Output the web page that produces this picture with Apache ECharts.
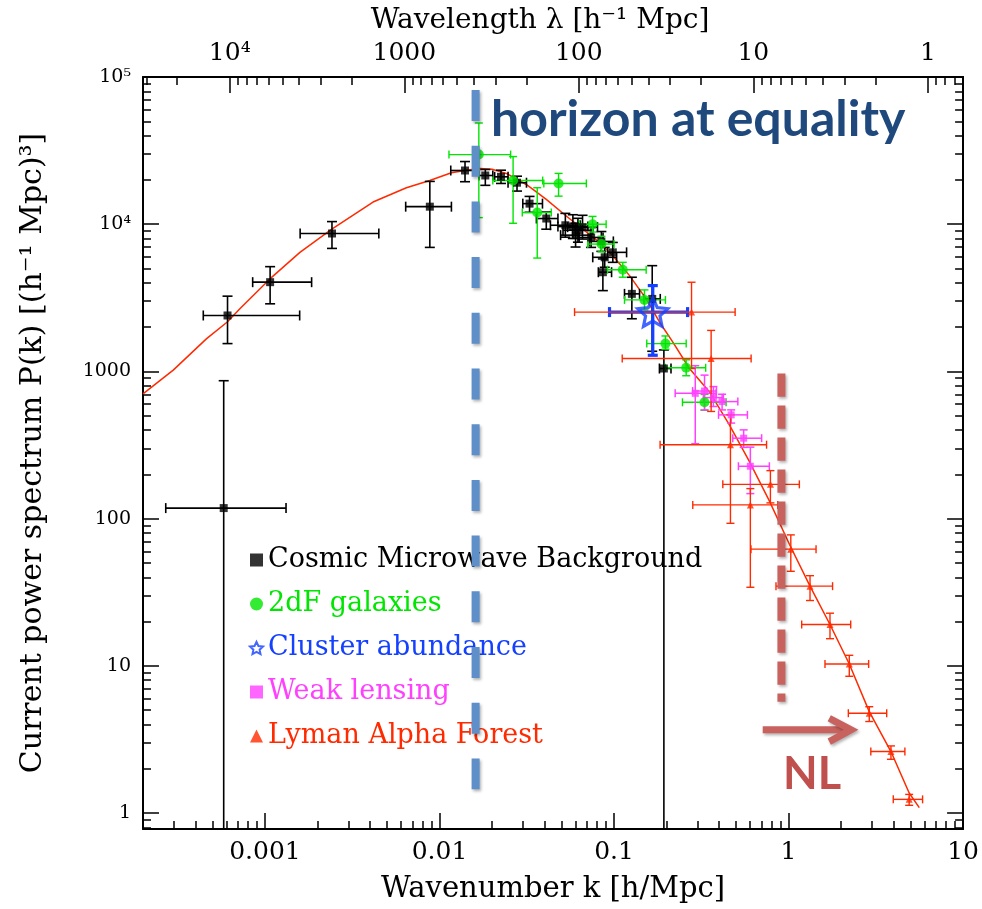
<!DOCTYPE html>
<html>
<head>
<meta charset="utf-8">
<script src="https://cdn.jsdelivr.net/npm/echarts@6/dist/echarts.min.js"></script>
<style>
  html, body { margin: 0; padding: 0; background: #ffffff; }
  #chart { width: 982px; height: 909px; }
</style>
</head>
<body>
<div id="chart"></div>
<script>
// ---- Measurements: each row is [k, P, kLow, kHigh, PLow, PHigh] ----
const cmb = [
  [5.8e-4, 118, 2.7e-4, 1.32e-3, 0.3, 865],
  [6.1e-4, 2400, 4.43e-4, 1.58e-3, 1546, 3246],
  [1.07e-3, 4040, 8.5e-4, 1.85e-3, 2880, 5150],
  [2.42e-3, 8650, 1.59e-3, 4.49e-3, 6850, 10420],
  [8.8e-3, 13160, 6.4e-3, 0.0117, 6960, 19540],
  [0.0140, 23170, 0.0116, 0.0163, 19440, 26650],
  [0.0183, 21430, 0.0168, 0.0202, 18370, 23550],
  [0.0225, 20990, 0.0207, 0.0247, 18920, 23270],
  [0.0278, 19140, 0.0247, 0.0315, 16790, 21190],
  [0.0328, 13800, 0.0300, 0.0389, 12050, 15450],
  [0.0409, 10930, 0.0359, 0.0477, 9250, 12100],
  [0.0526, 9840, 0.0432, 0.0641, 8170, 11850],
  [0.0581, 9640, 0.0477, 0.0708, 8000, 11600],
  [0.0621, 9100, 0.0510, 0.0756, 7550, 10970],
  [0.0660, 9550, 0.0542, 0.0804, 7930, 11500],
  [0.0602, 8430, 0.0494, 0.0733, 7000, 10160],
  [0.0739, 8130, 0.0631, 0.0865, 6960, 9500],
  [0.0846, 7640, 0.0722, 0.0991, 6540, 8920],
  [0.0984, 6440, 0.0920, 0.118, 5510, 7520],
  [0.0884, 5960, 0.0755, 0.1035, 5100, 6960],
  [0.0863, 4720, 0.0813, 0.0968, 3540, 5810],
  [0.1265, 3365, 0.1148, 0.140, 2280, 4363],
  [0.1655, 3110, 0.1490, 0.1840, 1371, 5230],
  [0.193, 1047, 0.182, 0.212, 0.3, 1400]
];
const twoDF = [
  [0.0168, 29720, 0.01133, 0.02555, 11090, 48700],
  [0.0264, 19800, 0.0202, 0.039, 10150, 28800],
  [0.0481, 18920, 0.0396, 0.0694, 15510, 22140],
  [0.0363, 12000, 0.0298, 0.0437, 5890, 17700],
  [0.0753, 10000, 0.0634, 0.0901, 8850, 11300],
  [0.0847, 7330, 0.0707, 0.100, 6490, 8280],
  [0.1122, 4910, 0.0918, 0.1528, 4365, 5510],
  [0.1494, 3062, 0.1148, 0.197, 2620, 3580],
  [0.197, 1546, 0.154, 0.259, 1416, 1742],
  [0.259, 1059, 0.197, 0.335, 935, 1200],
  [0.33, 617, 0.2466, 0.4385, 545, 698]
];
const clusters = [
  [0.1667, 2530, 0.0942, 0.264, 1288, 3830]
];
const weakLensing = [
  [0.292, 710, 0.224, 0.385, 323, 1094],
  [0.330, 736, 0.282, 0.386, 548, 944],
  [0.371, 664, 0.325, 0.423, 578, 789],
  [0.416, 624, 0.36, 0.512, 548, 700],
  [0.469, 507, 0.397, 0.581, 446, 548],
  [0.553, 352, 0.479, 0.701, 305, 401],
  [0.604, 227, 0.516, 0.776, 148, 306]
];
const lymanAlpha = [
  [0.278, 2530, 0.0594, 0.494, 1047, 4036],
  [0.36, 1224, 0.1114, 0.610, 535, 1900],
  [0.4645, 318, 0.1836, 0.748, 93, 507],
  [0.787, 171, 0.420, 1.153, 128, 212],
  [0.604, 124, 0.2826, 0.867, 34.2, 160],
  [1.03, 62.1, 0.609, 1.437, 43.9, 77.6],
  [1.327, 34.8, 0.847, 1.787, 27.8, 41],
  [1.727, 19.1, 1.189, 2.27, 15.3, 22.8],
  [2.228, 10.3, 1.617, 2.876, 8.5, 11.8],
  [2.90, 4.77, 2.20, 3.65, 4.19, 5.28],
  [3.86, 2.62, 2.96, 4.64, 2.32, 2.86],
  [4.91, 1.24, 3.98, 5.86, 1.13, 1.34]
];
// Model power spectrum, [k, P]
const modelCurve = [
  [2.0e-4, 705], [2.98e-4, 1021], [4.63e-4, 1671], [6.08e-4, 2168], [7.18e-4, 2665],
  [1.067e-3, 4250], [1.585e-3, 6440], [2.415e-3, 9250], [4.16e-3, 14150], [6.46e-3, 17700],
  [8.79e-3, 19840], [0.0117, 22350], [0.01426, 23270], [0.0170, 23900], [0.0200, 23600],
  [0.02415, 22120], [0.0314, 18620], [0.0409, 14750], [0.0532, 11380], [0.0662, 9250],
  [0.0826, 7520], [0.0984, 6110], [0.1227, 4475], [0.1528, 3113], [0.182, 2168],
  [0.2168, 1588], [0.2704, 1047], [0.3514, 729], [0.458, 434], [0.596, 245],
  [0.776, 132], [1.011, 67], [1.327, 34.8], [1.727, 19.1], [2.228, 10.3],
  [2.90, 4.89], [3.86, 2.62], [4.91, 1.37], [5.61, 1.09]
];

// ---- Axis ranges and tick labels ----
const kRange = [2e-4, 10];
const pRange = [0.78, 1e5];
const kTicks = [0.001, 0.01, 0.1, 1, 10];
const lambdaTicks = [1, 10, 100, 1000, 10000];
const pTicks = [1, 10, 100, 1000, 10000, 100000];

// ---- Annotations (data coordinates) ----
const kEquality = 0.0161;          // horizon at equality
const kNonlinear = 0.91;           // onset of non-linear scales
const eqLineSpan = [81600, 1.45];
const nlLineSpan = [969, 5.71];
const nlArrowShaft = [[0.711, 3.68], [2.13, 3.68]];
const nlArrowHead = [[1.71, 4.41], [2.28, 3.68], [1.71, 3.06]];

const FONT = 'DejaVu Serif';
const SUP = { '0': '⁰', '1': '¹', '2': '²', '3': '³', '4': '⁴', '5': '⁵', '6': '⁶', '7': '⁷', '8': '⁸', '9': '⁹', '-': '⁻' };
function powLabel(v) {
  const e = Math.round(Math.log10(v));
  return '10' + String(e).split('').map(c => SUP[c]).join('');
}
function minorTicks(lo, hi) {
  const out = [];
  for (let e = Math.floor(Math.log10(lo)) - 1; e <= Math.ceil(Math.log10(hi)); e++) {
    for (let m = 2; m <= 9; m++) {
      const v = m * Math.pow(10, e);
      if (v >= lo * 0.999 && v <= hi * 1.001) out.push(v);
    }
  }
  return out;
}
const lambdaRange = [2 * Math.PI / kRange[1], 2 * Math.PI / kRange[0]];

const frameLine = { show: true, onZero: false, lineStyle: { color: '#000', width: 2 } };
const majorTick = (vals) => ({ show: true, inside: true, length: 16, customValues: vals, lineStyle: { color: '#000', width: 1.5 } });
const minorTickStyle = (vals) => ({ show: true, inside: true, length: 8, customValues: vals, lineStyle: { color: '#000', width: 1.5 } });

function logAxis(base) {
  return Object.assign({
    type: 'log', logBase: 10,
    splitLine: { show: false },
    minorTick: { show: false },
    minorSplitLine: { show: false }
  }, base);
}

// Error bars with end caps, placed through the axes' own scales
function errorBars(color, width, cap) {
  return function (params, api) {
    const k = api.value(0), p = api.value(1);
    const c = api.coord([k, p]);
    const xl = api.coord([api.value(2), p])[0];
    const xr = api.coord([api.value(3), p])[0];
    const yb = api.coord([k, api.value(4)])[1];
    const yt = api.coord([k, api.value(5)])[1];
    const h = cap / 2;
    const style = { stroke: color, lineWidth: width, fill: null };
    const seg = (x1, y1, x2, y2) => ({ type: 'line', shape: { x1, y1, x2, y2 }, style });
    return {
      type: 'group',
      children: [
        seg(xl, c[1], xr, c[1]),
        seg(xl, c[1] - h, xl, c[1] + h),
        seg(xr, c[1] - h, xr, c[1] + h),
        seg(c[0], yb, c[0], yt),
        seg(c[0] - h, yb, c[0] + h, yb),
        seg(c[0] - h, yt, c[0] + h, yt)
      ]
    };
  };
}

const STAR = 'path://M50 0 L64.11 30.58 L97.55 34.55 L72.83 57.42 L79.39 90.45 L50 74 L20.61 90.45 L27.17 57.42 L2.45 34.55 L35.89 30.58 Z';

const datasets = [
  { name: 'Cosmic Microwave Background', data: cmb, color: '#000000', symbol: 'rect', size: 8, bar: 1.6, cap: 10 },
  { name: '2dF galaxies', data: twoDF, color: '#00E600', symbol: 'circle', size: 10, bar: 1.4, cap: 8 },
  { name: 'Cluster abundance', data: clusters, color: '#1440FF', symbol: STAR, size: 30, bar: 3.2, cap: 10, hollow: true },
  { name: 'Weak lensing', data: weakLensing, color: '#FF40FF', symbol: 'rect', size: 7, bar: 1.5, cap: 8 },
  { name: 'Lyman Alpha Forest', data: lymanAlpha, color: '#FF2A00', symbol: 'triangle', size: 7, bar: 1.4, cap: 8 }
];

const series = [];
series.push({
  name: 'model', type: 'line', data: modelCurve, symbol: 'none', smooth: false,
  lineStyle: { color: '#FF2A00', width: 1.5, join: 'round' }, z: 2, silent: true
});
datasets.forEach(d => {
  series.push({
    name: d.name + ' errors', type: 'custom', data: d.data, clip: true,
    encode: { x: 0, y: 1 }, renderItem: errorBars(d.color, d.bar, d.cap), z: 3, silent: true
  });
});
datasets.forEach(d => {
  series.push({
    name: d.name, type: 'scatter', data: d.data.map(r => [r[0], r[1]]),
    symbol: d.symbol, symbolSize: d.size, symbolKeepAspect: true,
    itemStyle: d.hollow
      ? { color: 'rgba(0,0,0,0)', borderColor: d.color, borderWidth: 3.2 }
      : { color: d.color },
    z: 4, silent: true
  });
});
// Dashed markers and arrow
const dashShadow = { shadowColor: 'rgba(0,0,0,0.3)', shadowBlur: 3, shadowOffsetX: 1.5, shadowOffsetY: 2 };
series.push({
  name: 'equality', type: 'line', symbol: 'none', silent: true, z: 6,
  data: [[kEquality, eqLineSpan[0]], [kEquality, eqLineSpan[1]]],
  lineStyle: Object.assign({ color: '#5E8FC9', width: 8, type: [31, 24.7], cap: 'butt' }, dashShadow)
});
series.push({
  name: 'nonlinear', type: 'line', symbol: 'none', silent: true, z: 6,
  data: [[kNonlinear, nlLineSpan[0]], [kNonlinear, nlLineSpan[1]]],
  lineStyle: Object.assign({ color: '#C8625E', width: 8, type: [23.3, 8.7], cap: 'butt' }, dashShadow)
});
series.push({
  name: 'nl arrow', type: 'line', symbol: 'none', silent: true, z: 6,
  data: nlArrowShaft,
  lineStyle: Object.assign({ color: '#C8625E', width: 7, cap: 'butt' }, dashShadow)
});
series.push({
  name: 'nl arrow head', type: 'line', symbol: 'none', silent: true, z: 6,
  data: nlArrowHead,
  lineStyle: Object.assign({ color: '#C8625E', width: 7, cap: 'butt', join: 'miter' }, dashShadow)
});

const option = {
  animation: false,
  backgroundColor: '#ffffff',
  grid: { left: 143, right: 18, top: 77, bottom: 76 },
  xAxis: [
    logAxis({
      min: kRange[0], max: kRange[1], position: 'bottom',
      axisLine: frameLine, axisTick: majorTick(kTicks),
      axisLabel: { customValues: kTicks, formatter: v => String(v), margin: 11, color: '#000', fontFamily: FONT, fontSize: 25 },
      name: 'Wavenumber k [h/Mpc]', nameLocation: 'middle', nameGap: 46,
      nameTextStyle: { fontFamily: FONT, fontSize: 29, color: '#000' }
    }),
    logAxis({
      min: kRange[0], max: kRange[1], position: 'bottom',
      axisLine: { show: false }, axisTick: minorTickStyle(minorTicks(kRange[0], kRange[1])), axisLabel: { show: false }
    }),
    logAxis({
      min: lambdaRange[0], max: lambdaRange[1], inverse: true, position: 'top',
      axisLine: frameLine, axisTick: majorTick(lambdaTicks),
      axisLabel: { customValues: lambdaTicks, formatter: v => (v >= 1e4 ? powLabel(v) : String(v)), margin: 11, color: '#000', fontFamily: FONT, fontSize: 25 },
      name: 'Wavelength λ [h⁻¹ Mpc]', nameLocation: 'middle', nameGap: 42,
      nameTextStyle: { fontFamily: FONT, fontSize: 28, color: '#000', padding: [0, 26, 0, 0] }
    }),
    logAxis({
      min: lambdaRange[0], max: lambdaRange[1], inverse: true, position: 'top',
      axisLine: { show: false }, axisTick: minorTickStyle(minorTicks(lambdaRange[0], lambdaRange[1])), axisLabel: { show: false }
    })
  ],
  yAxis: [
    logAxis({
      min: pRange[0], max: pRange[1], position: 'left',
      axisLine: frameLine, axisTick: majorTick(pTicks),
      axisLabel: { customValues: pTicks, formatter: v => (v >= 1e4 ? powLabel(v) : String(v)), margin: 12, color: '#000', fontFamily: FONT, fontSize: 19 },
      name: 'Current power spectrum P(k) [(h⁻¹ Mpc)³]', nameLocation: 'middle', nameGap: 95,
      nameTextStyle: { fontFamily: FONT, fontSize: 30, color: '#000' }
    }),
    logAxis({
      min: pRange[0], max: pRange[1], position: 'left',
      axisLine: { show: false }, axisTick: minorTickStyle(minorTicks(pRange[0], pRange[1])), axisLabel: { show: false }
    }),
    logAxis({
      min: pRange[0], max: pRange[1], position: 'right',
      axisLine: frameLine, axisTick: majorTick(pTicks), axisLabel: { show: false }
    }),
    logAxis({
      min: pRange[0], max: pRange[1], position: 'right',
      axisLine: { show: false }, axisTick: minorTickStyle(minorTicks(pRange[0], pRange[1])), axisLabel: { show: false }
    })
  ],
  legend: {
    orient: 'vertical', left: 244, top: 540,
    itemWidth: 13, itemHeight: 13, itemGap: 14,
    selectedMode: false,
    textStyle: { fontFamily: FONT, fontSize: 27, lineHeight: 30 },
    data: datasets.map(d => ({
      name: d.name,
      textStyle: { color: d.color },
      itemStyle: d.hollow ? { borderWidth: 2 } : undefined
    }))
  },
  graphic: [
    {
      type: 'text', left: 491, top: 95, z: 100,
      style: { text: 'horizon at equality', font: 'bold 50px Lato', fill: '#1F497D' }
    },
    {
      type: 'text', left: 783, top: 752, z: 100,
      style: { text: 'NL', font: 'bold 45px Lato', fill: '#C0504D' }
    }
  ],
  series: series
};

const chart = echarts.init(document.getElementById('chart'), null, { renderer: 'canvas' });
chart.setOption(option);
</script>
</body>
</html>
